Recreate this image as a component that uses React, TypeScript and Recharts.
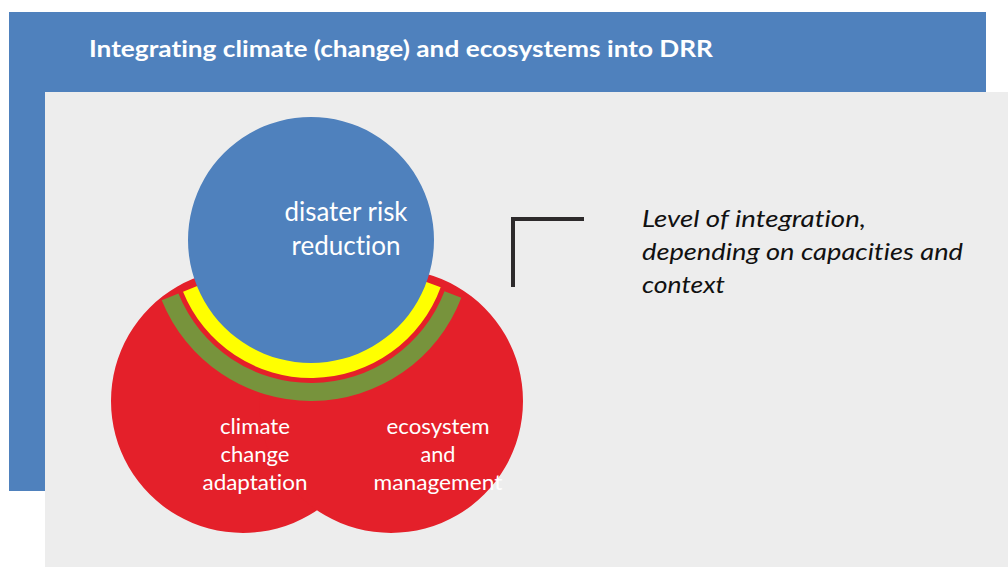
import React from 'react';
import { PieChart, Pie, Cell } from 'recharts';

const W = 1008;
const H = 567;

// Texts
const titleText = 'Integrating climate (change) and ecosystems into DRR';
const drrLines = ['disater risk', 'reduction'];
const ccaLines = ['climate', 'change', 'adaptation'];
const ecoLines = ['ecosystem', 'and', 'management'];
const noteLines = ['Level of integration,', 'depending on capacities and', 'context'];

// Diagram data (one value per circle / band)
const drrData = [{ name: 'disater risk reduction', value: 1 }];
const ccaData = [{ name: 'climate change adaptation', value: 1 }];
const ecoData = [{ name: 'ecosystem and management', value: 1 }];
const yellowBand = [{ name: 'integration (inner)', value: 1 }];
const greenBand = [{ name: 'integration (outer)', value: 1 }];

const BLUE = '#4f81bd';
const RED = '#e4202a';
const YELLOW = '#ffff00';
const GREEN = '#77933c';
const GREY = '#ededed';

const font = 'Lato, "Open Sans", sans-serif';
const noLig: React.CSSProperties = { fontVariantLigatures: 'none', fontFeatureSettings: '"liga" 0, "clig" 0' };

type Line = { text: string; x: number; y: number; w: number };

const drrPos: Line[] = [
  { text: drrLines[0], x: 346, y: 221, w: 123 },
  { text: drrLines[1], x: 346, y: 255, w: 109 },
];
const ccaPos: Line[] = [
  { text: ccaLines[0], x: 255, y: 434, w: 70 },
  { text: ccaLines[1], x: 255, y: 462, w: 69 },
  { text: ccaLines[2], x: 255, y: 490, w: 105 },
];
const ecoPos: Line[] = [
  { text: ecoLines[0], x: 438, y: 434, w: 103 },
  { text: ecoLines[1], x: 438, y: 462, w: 35 },
  { text: ecoLines[2], x: 438, y: 490, w: 129 },
];
const notePos: Line[] = [
  { text: noteLines[0], x: 642, y: 227, w: 224 },
  { text: noteLines[1], x: 642, y: 260, w: 321 },
  { text: noteLines[2], x: 642, y: 293, w: 83 },
];

export default function App() {
  return (
    <div style={{ position: 'absolute', left: 0, top: 0, width: W, height: H, background: '#ffffff', overflow: 'hidden' }}>
      <svg width={W} height={H} style={{ position: 'absolute', left: 0, top: 0 }}>
        <rect x={9} y={12} width={977} height={479} fill={BLUE} />
        <rect x={45} y={92} width={W - 45} height={H - 92} fill={GREY} />
      </svg>
      <div style={{ position: 'absolute', left: 0, top: 0 }}>
        <PieChart width={W} height={H} margin={{ top: 0, right: 0, bottom: 0, left: 0 }}>
          <Pie data={ccaData} dataKey="value" cx={243} cy={401} innerRadius={0} outerRadius={132}
            startAngle={0} endAngle={360} stroke="none" isAnimationActive={false} label={false}>
            {ccaData.map((d) => <Cell key={d.name} fill={RED} stroke="none" />)}
          </Pie>
          <Pie data={ecoData} dataKey="value" cx={391} cy={401} innerRadius={0} outerRadius={132}
            startAngle={0} endAngle={360} stroke="none" isAnimationActive={false} label={false}>
            {ecoData.map((d) => <Cell key={d.name} fill={RED} stroke="none" />)}
          </Pie>
          <Pie data={greenBand} dataKey="value" cx={311} cy={240} innerRadius={143} outerRadius={161}
            startAngle={-21} endAngle={-158} stroke="none" isAnimationActive={false} label={false}>
            {greenBand.map((d) => <Cell key={d.name} fill={GREEN} stroke="none" />)}
          </Pie>
          <Pie data={yellowBand} dataKey="value" cx={311} cy={240} innerRadius={120} outerRadius={138}
            startAngle={-20} endAngle={-158} stroke="none" isAnimationActive={false} label={false}>
            {yellowBand.map((d) => <Cell key={d.name} fill={YELLOW} stroke="none" />)}
          </Pie>
          <Pie data={drrData} dataKey="value" cx={311} cy={240} innerRadius={0} outerRadius={123}
            startAngle={0} endAngle={360} stroke="none" isAnimationActive={false} label={false}>
            {drrData.map((d) => <Cell key={d.name} fill={BLUE} stroke="none" />)}
          </Pie>
        </PieChart>
      </div>
      <svg width={W} height={H} style={{ position: 'absolute', left: 0, top: 0, pointerEvents: 'none' }}>
        <text x={89} y={57} fill="#ffffff" fontFamily={font} fontWeight={700} fontSize={23} style={noLig}
          textLength={624} lengthAdjust="spacingAndGlyphs">{titleText}</text>
        {drrPos.map((l) => (
          <text key={l.text} x={l.x} y={l.y} fill="#ffffff" fontFamily={font} fontSize={26} style={noLig}
            textAnchor="middle" textLength={l.w} lengthAdjust="spacingAndGlyphs">{l.text}</text>
        ))}
        {ccaPos.concat(ecoPos).map((l) => (
          <text key={l.text} x={l.x} y={l.y} fill="#ffffff" fontFamily={font} fontSize={21} style={noLig}
            textAnchor="middle" textLength={l.w} lengthAdjust="spacingAndGlyphs">{l.text}</text>
        ))}
        {notePos.map((l) => (
          <text key={l.text} x={l.x} y={l.y} fill="#111111" fontFamily={font} fontStyle="italic" fontSize={24} style={noLig}
            textLength={l.w} lengthAdjust="spacingAndGlyphs">{l.text}</text>
        ))}
        <path d="M513,287 L513,219 L584,219" fill="none" stroke="#2d2a2b" strokeWidth={4} />
      </svg>
    </div>
  );
}
